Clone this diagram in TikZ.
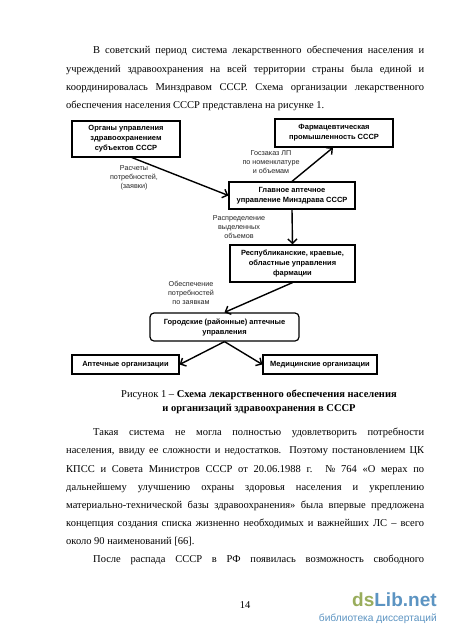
\documentclass[tikz,border=0pt]{standalone}
\usepackage{fontspec}
\setmainfont{Liberation Serif}
\newfontfamily\arialf{Liberation Sans}
\usetikzlibrary{arrows.meta}
\tikzset{
 x=1pt,y=-1pt,
 body/.style={anchor=base west,inner sep=0pt,font=\fontsize{10.5}{12}\selectfont},
 captext/.style={anchor=base,inner sep=0pt,align=center,font=\fontsize{10.5}{12}\selectfont},
 box/.style={draw=black,line width=1.2pt,fill=white,align=center,inner sep=0pt,font=\arialf\bfseries\fontsize{7.5}{10}\selectfont},
 lab/.style={align=center,inner sep=0pt,text=black!85,font=\arialf\fontsize{7.2}{8.9}\selectfont},
 flowline/.style={draw=black,line width=1.4pt,-{Straight Barb[length=4.5pt,width=9pt]}},
}
\newcommand{\jline}[1]{\makebox[358pt][s]{#1}}
\newcommand{\iline}[1]{\makebox[331pt][s]{#1}}
\begin{document}
\begin{tikzpicture}
\useasboundingbox[fill=white] (0,0) rectangle (450,637);
% body text above
\node[body] (t1) at (93,53) {\iline{В советский период система лекарственного обеспечения населения и}};
\node[body] (t2) at (66,72) {\jline{учреждений здравоохранения на всей территории страны была единой и}};
\node[body] (t3) at (66,90) {\jline{координировалась Минздравом СССР. Схема организации лекарственного}};
\node[body] (t4) at (66,108) {обеспечения населения СССР представлена на рисунке 1.};
% boxes
\node[box,minimum width=108pt,minimum height=36pt] (org) at (126,139) {Органы управления\\здравоохранением\\субъектов СССР};
\node[box,minimum width=118pt,minimum height=28pt] (ph) at (334,133) {Фармацевтическая\\промышленность СССР};
\node[box,minimum width=126pt,minimum height=27pt] (gl) at (292,195.5) {Главное аптечное\\управление Минздрава СССР};
\node[box,minimum width=125pt,minimum height=37pt] (rp) at (292.5,263.5) {Республиканские, краевые,\\областные управления\\фармации};
\node[box,rounded corners=4pt,minimum width=149pt,minimum height=28pt] (gr) at (224.5,327) {Городские (районные) аптечные\\управления};
\node[box,minimum width=107pt,minimum height=19pt] (ap) at (125.5,364.5) {Аптечные организации};
\node[box,minimum width=114pt,minimum height=19pt] (md) at (320,364.5) {Медицинские организации};
% connectors
\coordinate (org1) at ([xshift=6pt]org.south);
\draw[flowline] (org1) -- (gl.west);
\draw[flowline] (gl.north) -- ([xshift=-1pt]ph.south);
\draw[flowline] (gl.south) -- (rp.north);
\draw[flowline] (rp.south) -- (gr.north);
\draw[flowline] (gr.south) -- (ap.east);
\draw[flowline] (gr.south) -- (md.west);
% labels
\node[lab] (l1) at (134,178) {Расчеты\\потребностей,\\(заявки)};
\node[lab] (l2) at (271,162) {Госзаказ ЛП\\по номенклатуре\\и объемам};
\node[lab] (l3) at (239,227) {Распределение\\выделенных\\объемов};
\node[lab] (l4) at (191,293) {Обеспечение\\потребностей\\по заявкам};
% caption
\node[captext] (c1t) at (259,397) {Рисунок 1 -- \textbf{Схема лекарственного обеспечения населения}};
\node[captext] (c2t) at (259,411) {\textbf{и организаций здравоохранения в СССР}};
% body below
\node[body] (u1) at (93,435) {\iline{Такая система не могла полностью удовлетворить потребности}};
\node[body] (u2) at (66,453.5) {\jline{населения, ввиду ее сложности и недостатков. Поэтому постановлением ЦК}};
\node[body] (u3) at (66,472) {\jline{КПСС и Совета Министров СССР от 20.06.1988 г. № 764 «О мерах по}};
\node[body] (u4) at (66,490) {\jline{дальнейшему улучшению охраны здоровья населения и укреплению}};
\node[body] (u5) at (66,508) {\jline{материально-технической базы здравоохранения» была впервые предложена}};
\node[body] (u6) at (66,526) {\jline{концепция создания списка жизненно необходимых и важнейших ЛС -- всего}};
\node[body] (u7) at (66,544) {около 90 наименований [66].};
\node[body] (u8) at (93,562) {\iline{После распада СССР в РФ появилась возможность свободного}};
\node[captext] (pg) at (245,608) {14};
% watermark
\node[anchor=base west,inner sep=0pt,font=\arialf\bfseries\fontsize{19}{19}\selectfont] (wm) at (352,606) {\textcolor[rgb]{0.6,0.68,0.36}{ds}\textcolor[rgb]{0.36,0.58,0.76}{Lib.net}};
\node[anchor=base east,inner sep=0pt,font=\arialf\fontsize{10.2}{10}\selectfont,text={rgb,1:red,0.36;green,0.58;blue,0.76}] (wm2) at (437,621) {библиотека диссертаций};
\end{tikzpicture}
\end{document}
